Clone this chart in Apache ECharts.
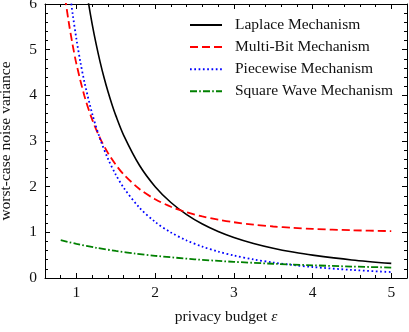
<!DOCTYPE html>
<html>
<head>
<meta charset="utf-8">
<script src="https://cdn.jsdelivr.net/npm/echarts@6/dist/echarts.min.js"></script>
<style>html,body{margin:0;padding:0;background:#fff}#c{width:409px;height:332px}</style>
</head>
<body>
<div id="c"></div>
<script>
// ---- data ----
const seriesNames = ['Laplace Mechanism', 'Multi-Bit Mechanism', 'Piecewise Mechanism', 'Square Wave Mechanism'];
const xTickLabels = [1, 2, 3, 4, 5];
const yTickLabels = [0, 1, 2, 3, 4, 5, 6];
const xAxisTitle = 'privacy budget ';
const xAxisSymbol = 'ε';
const yAxisTitle = 'worst-case noise variance';

const laplaceEps = [1.1, 1.15, 1.2, 1.25, 1.3, 1.35, 1.4, 1.45, 1.5, 1.6, 1.8, 2.0, 2.2, 2.4, 2.6, 2.8, 3.0, 3.25, 3.5, 3.75, 4.0, 4.5, 5.0];
const laplaceVar = [6.61, 6.05, 5.556, 5.12, 4.734, 4.39, 4.082, 3.805, 3.556, 3.125, 2.469, 2.0, 1.653, 1.389, 1.183, 1.02, 0.889, 0.757, 0.653, 0.569, 0.5, 0.395, 0.32];

const multiBitEps = [0.8, 0.85, 0.9, 0.95, 1.0, 1.1, 1.2, 1.3, 1.4, 1.5, 1.6, 1.8, 2.0, 2.2, 2.4, 2.6, 2.8, 3.0, 3.25, 3.5, 3.75, 4.0, 4.5, 5.0];
const multiBitVar = [6.93, 6.215, 5.618, 5.114, 4.683, 3.992, 3.467, 3.06, 2.738, 2.479, 2.268, 1.949, 1.724, 1.561, 1.439, 1.347, 1.276, 1.221, 1.168, 1.128, 1.099, 1.076, 1.045, 1.027];

const piecewiseEps = [0.9, 0.95, 1.0, 1.05, 1.1, 1.2, 1.3, 1.4, 1.5, 1.6, 1.8, 2.0, 2.2, 2.4, 2.6, 2.8, 3.0, 3.25, 3.5, 3.75, 4.0, 4.5, 5.0];
const piecewiseVar = [6.474, 5.80, 5.224, 4.727, 4.298, 3.595, 3.047, 2.612, 2.262, 1.976, 1.539, 1.228, 0.997, 0.822, 0.687, 0.579, 0.493, 0.407, 0.339, 0.285, 0.241, 0.176, 0.13];

const squareWaveEps = [0.8, 1.0, 1.25, 1.5, 1.75, 2.0, 2.5, 3.0, 3.5, 4.0, 4.5, 5.0];
const squareWaveVar = [0.827, 0.747, 0.662, 0.593, 0.535, 0.486, 0.41, 0.354, 0.312, 0.278, 0.251, 0.229];

function pairs(xs, ys) { return xs.map((x, i) => [x, ys[i]]); }

const FONT = "'Liberation Serif', 'Times New Roman', serif";
const FS = 15.5;
const TXT = '#111';

function xAxisMajor(pos, labels) {
  return {
    type: 'value', position: pos, min: 0.6, max: 5.2,
    axisLine: { show: true, onZero: false, lineStyle: { color: '#000', width: 1 } },
    axisTick: { show: true, inside: true, length: 5, customValues: xTickLabels, lineStyle: { color: '#000' } },
    axisLabel: { show: labels, customValues: xTickLabels, fontFamily: FONT, fontSize: FS, color: TXT, margin: 7 },
    splitLine: { show: false }
  };
}
function xAxisMinor(pos) {
  return {
    type: 'value', position: pos, min: 0.6, max: 5.2, interval: 0.2,
    axisLine: { show: false, onZero: false },
    axisTick: { show: true, inside: true, length: 3, lineStyle: { color: '#000' } },
    axisLabel: { show: false },
    splitLine: { show: false }
  };
}
function yAxisDef(pos, labels) {
  return {
    type: 'value', position: pos, min: 0, max: 6, interval: 1,
    axisLine: { show: true, onZero: false, lineStyle: { color: '#000', width: 1 } },
    axisTick: { show: true, inside: true, length: 5, lineStyle: { color: '#000' } },
    minorTick: { show: true, splitNumber: 5, length: 3, lineStyle: { color: '#000' } },
    axisLabel: { show: labels, fontFamily: FONT, fontSize: FS, color: TXT, margin: 8,
      formatter: v => (yTickLabels.indexOf(v) >= 0 ? String(v) : '') },
    splitLine: { show: false }
  };
}

const xMain = xAxisMajor('bottom', true);
xMain.name = xAxisTitle + '{e|' + xAxisSymbol + '}';
xMain.nameLocation = 'middle';
xMain.nameGap = 31;
xMain.nameTextStyle = { fontFamily: FONT, fontSize: FS, color: TXT, rich: { e: { fontFamily: FONT, fontSize: FS, fontStyle: 'italic', color: TXT } } };

const yMain = yAxisDef('left', true);
yMain.name = yAxisTitle;
yMain.nameLocation = 'middle';
yMain.nameGap = 31;
yMain.nameTextStyle = { fontFamily: FONT, fontSize: FS, color: TXT };

const styles = [
  { color: '#000000', width: 1.6, type: 'solid' },
  { color: '#ff0000', width: 1.8, type: [8, 4] },
  { color: '#0000ff', width: 1.8, type: [1.7, 2.6] },
  { color: '#008000', width: 1.8, type: [7, 2.2, 1.6, 2.2] }
];
const dataSets = [
  pairs(laplaceEps, laplaceVar),
  pairs(multiBitEps, multiBitVar),
  pairs(piecewiseEps, piecewiseVar),
  pairs(squareWaveEps, squareWaveVar)
];

const chart = echarts.init(document.getElementById('c'), null, { renderer: 'canvas' });
chart.setOption({
  animation: false,
  backgroundColor: '#fff',
  grid: { left: 45, right: 2, top: 4, bottom: 54, containLabel: false, outerBoundsMode: 'none' },
  xAxis: [xMain, xAxisMinor('bottom'), xAxisMajor('top', false), xAxisMinor('top')],
  yAxis: [yMain, yAxisDef('right', false)],
  legend: {
    orient: 'vertical', left: 184, top: 12, itemWidth: 32, itemHeight: 14, itemGap: 6.1,
    itemStyle: { opacity: 0 },
    textStyle: { fontFamily: FONT, fontSize: FS, color: TXT, padding: [0, 0, 0, 8] },
    data: seriesNames
  },
  series: seriesNames.map((n, i) => ({
    name: n, type: 'line', xAxisIndex: 0, yAxisIndex: 0,
    data: dataSets[i], symbol: 'none', showSymbol: false,
    smooth: 0.3, clip: true,
    color: styles[i].color,
    lineStyle: { color: styles[i].color, width: styles[i].width, type: styles[i].type }
  }))
});
</script>
</body>
</html>
